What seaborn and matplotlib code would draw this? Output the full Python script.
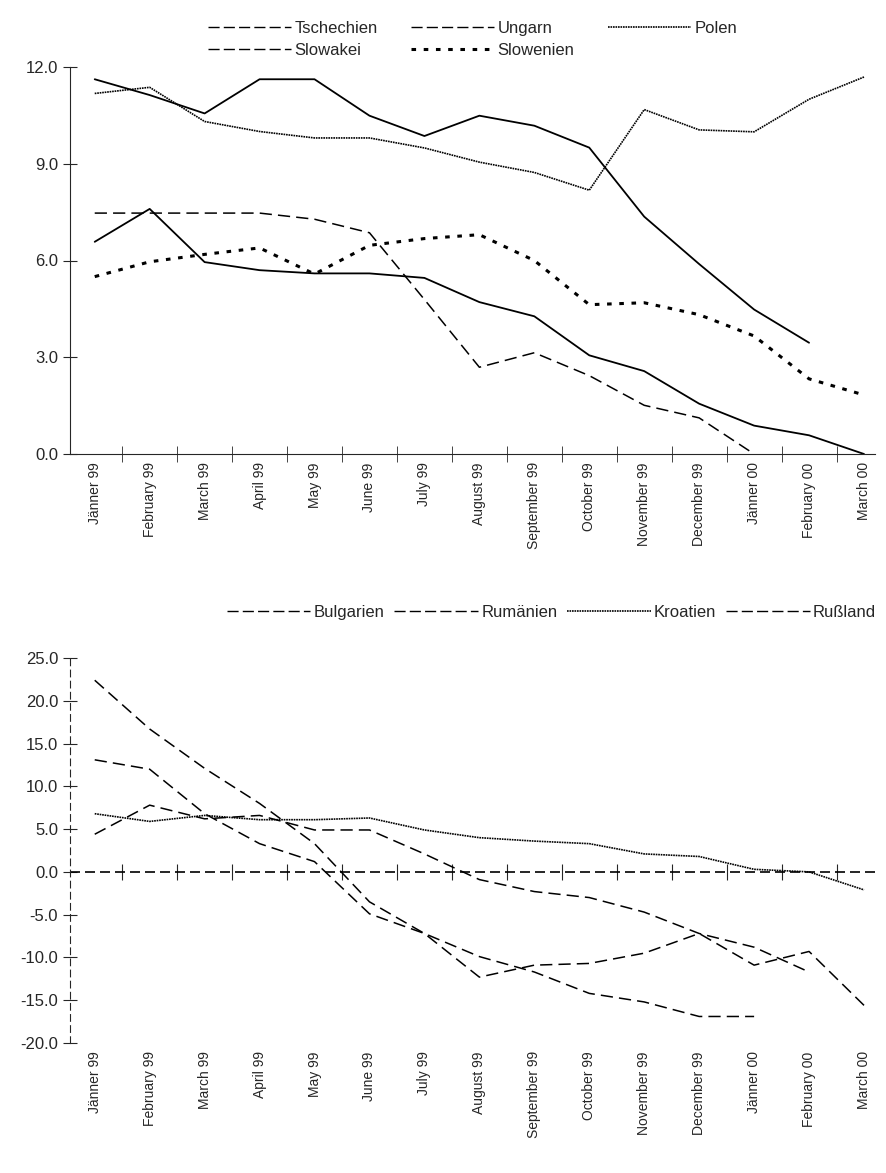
import numpy as np
import pandas as pd
import seaborn as sns
import matplotlib.pyplot as plt
from matplotlib.lines import Line2D

months = ['Jänner 99', 'February 99', 'March 99', 'April 99', 'May 99', 'June 99', 'July 99',
          'August 99', 'September 99', 'October 99', 'November 99', 'December 99',
          'Jänner 00', 'February 00', 'March 00']

tschechien = [11.62, 11.13, 10.56, 11.62, 11.62, 10.49, 9.86, 10.49, 10.18, 9.5, 7.36, 5.89, 4.48, 3.45, None]
ungarn = [6.58, 7.6, 5.95, 5.7, 5.6, 5.6, 5.46, 4.71, 4.27, 3.06, 2.57, 1.56, 0.88, 0.58, 0.0]
polen = [11.18, 11.37, 10.31, 10.0, 9.8, 9.8, 9.49, 9.05, 8.73, 8.18, 10.68, 10.05, 9.99, 11.0, 11.69]
slowakei = [7.47, 7.47, 7.47, 7.47, 7.28, 6.86, 4.79, 2.69, 3.14, 2.43, 1.51, 1.12, 0.0, None, None]
slowenien = [5.5, 5.96, 6.19, 6.39, 5.58, 6.47, 6.68, 6.8, 6.0, 4.63, 4.69, 4.32, 3.66, 2.33, 1.83]

bulgarien = [22.4, 16.7, 12.1, 8.0, 3.3, -3.5, -7.2, -12.3, -10.9, -10.7, -9.5, -7.2, -10.9, -9.3, -15.6]
rumaenien = [13.1, 12.0, 6.8, 3.3, 1.2, -4.9, -7.2, -9.9, -11.7, -14.2, -15.2, -16.9, -16.9, None, None]
kroatien = [6.8, 5.9, 6.6, 6.1, 6.1, 6.3, 4.9, 4.0, 3.6, 3.3, 2.1, 1.8, 0.3, 0.0, -2.1]
russland = [4.4, 7.8, 6.2, 6.6, 4.9, 4.9, 2.1, -0.9, -2.3, -3.0, -4.7, -7.2, -8.8, -11.7, None]

sns.set_style('white')
plt.rcParams['font.family'] = ['Liberation Sans', 'DejaVu Sans']

fig = plt.figure(figsize=(8.87, 11.73), dpi=100)
ax1 = fig.add_axes([70/887, 1 - 454/1173, 805/887, (454 - 67)/1173])
ax2 = fig.add_axes([70/887, 1 - 1043/1173, 805/887, (1043 - 658)/1173])

x = np.arange(len(months))

def draw(ax, series):
    for name, vals, ls, lw in series:
        df = pd.DataFrame({'x': x, 'y': pd.array(vals, dtype='Float64').astype(float)})
        sns.lineplot(data=df, x='x', y='y', ax=ax, color='black', lw=lw, linestyle=ls, legend=False)
    ax.set_xlim(-0.45, 14.2)
    ax.set_xticks(x)
    ax.set_xticklabels(months, rotation=90, fontsize=10, fontstretch='condensed')
    ax.set_xticks(x[:-1] + 0.5, minor=True)
    ax.set_xlabel('')
    ax.set_ylabel('')
    for s in ['top', 'right']:
        ax.spines[s].set_visible(False)
    ax.tick_params(axis='x', which='major', length=0, pad=6)
    ax.tick_params(axis='y', which='major', left=True, direction='inout', length=10, labelsize=12)
    ax.tick_params(axis='x', which='minor', bottom=True, direction='inout', length=12)

def handle(ls, lw):
    return Line2D([], [], color='black', lw=lw, linestyle=ls)

draw(ax1, [('Tschechien', tschechien, '-', 1.3),
           ('Ungarn', ungarn, '-', 1.3),
           ('Polen', polen, (0, (1, 0.5)), 1.2),
           ('Slowakei', slowakei, (0, (8, 4)), 1.1),
           ('Slowenien', slowenien, (0, (1.5, 2.5)), 2.2)])
ax1.set_ylim(0, 12)
ax1.set_yticks([0, 3, 6, 9, 12])
ax1.set_yticklabels(['0.0', '3.0', '6.0', '9.0', '12.0'])
dash = (0, (8, 3))
# column-major fill: order gives rows Tschechien/Ungarn/Polen and Slowakei/Slowenien
h1 = [handle(dash, 1), handle(dash, 1), handle(dash, 1), handle((0, (1.5, 2.5)), 2.2), handle((0, (1, 0.5)), 1.2)]
l1 = ['Tschechien', 'Slowakei', 'Ungarn', 'Slowenien', 'Polen']
ax1.legend(h1, l1, ncol=3, frameon=False, loc='lower center', bbox_to_anchor=(0.5, 0.985),
           fontsize=12, handlelength=5, columnspacing=2, handletextpad=0.2, labelspacing=0.4)

draw(ax2, [('Bulgarien', bulgarien, (0, (8, 4)), 1.1),
           ('Rumänien', rumaenien, (0, (8, 4)), 1.1),
           ('Kroatien', kroatien, (0, (1, 0.5)), 1.2),
           ('Rußland', russland, (0, (8, 4)), 1.1)])
ax2.set_ylim(-20, 25)
ax2.set_yticks(range(-20, 30, 5))
ax2.set_yticklabels([f'{v:.1f}' for v in range(-20, 30, 5)])
ax2.spines['bottom'].set_visible(False)
ax2.spines['left'].set_linestyle((0, (6, 4)))
ax2.tick_params(axis='x', which='minor', length=0)
ax2.axhline(0, color='black', lw=1.2, linestyle=(0, (6, 3)))
sec = ax2.secondary_xaxis(20 / 45)
sec.set_xticks(x[:-1] + 0.5)
sec.set_xticklabels([])
sec.spines['bottom'].set_visible(False)
sec.tick_params(direction='inout', length=12)
h2 = [handle(dash, 1), handle(dash, 1), handle((0, (1, 0.5)), 1.2), handle(dash, 1)]
ax2.legend(h2, ['Bulgarien', 'Rumänien', 'Kroatien', 'Rußland'], ncol=4, frameon=False,
           loc='lower right', bbox_to_anchor=(1.02, 1.06),
           fontsize=12, handlelength=5, columnspacing=0.6, handletextpad=0.2)

fig.savefig('out.png', dpi=100)
